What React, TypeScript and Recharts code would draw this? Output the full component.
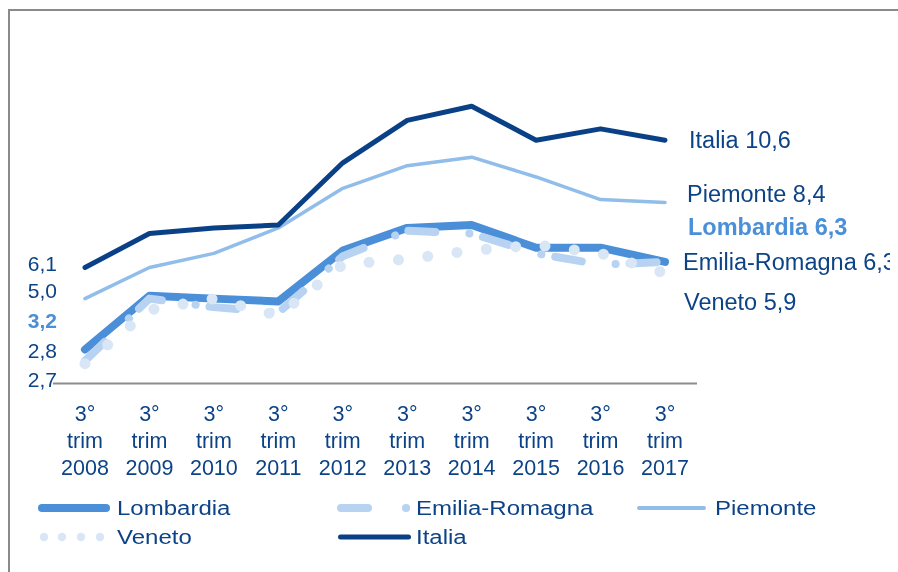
import React from "react";
import { LineChart, Line, XAxis, YAxis } from "recharts";

const periods = ["2008", "2009", "2010", "2011", "2012", "2013", "2014", "2015", "2016", "2017"];
const tickLines = ["3°", "trim"];

const lombardia = [3.2, 5.1, 5.0, 4.9, 6.7, 7.5, 7.6, 6.8, 6.8, 6.3];
const emiliaRomagna = [2.8, 5.0, 4.7, 4.5, 6.5, 7.4, 7.3, 6.6, 6.2, 6.3];
const piemonte = [5.0, 6.1, 6.6, 7.5, 8.9, 9.7, 10.0, 9.3, 8.5, 8.4];
const veneto = [2.7, 4.6, 5.0, 4.4, 6.2, 6.4, 6.7, 6.9, 6.6, 5.9];
const italia = [6.1, 7.3, 7.5, 7.6, 9.8, 11.3, 11.8, 10.6, 11.0, 10.6];

const data = periods.map((p, i) => ({
  period: p,
  Lombardia: lombardia[i],
  "Emilia-Romagna": emiliaRomagna[i],
  Piemonte: piemonte[i],
  Veneto: veneto[i],
  Italia: italia[i],
}));

const NAVY = "#0c4387";
const FONT = "'Liberation Sans', Arial, sans-serif";
const fmt = (v: number) => v.toFixed(1).replace(".", ",");

type Cfg = {
  key: string;
  color: string;
  width: number;
  dash?: string;
  labelColor: string;
  bold?: boolean;
  startDy: number;
  endDx: number;
  endDy: number;
};

const series: Cfg[] = [
  { key: "Lombardia", color: "#4a8fd8", width: 8, labelColor: "#4a90d9", bold: true, startDy: -29, endDx: 23, endDy: -35 },
  { key: "Emilia-Romagna", color: "#b8d3f1", width: 8, dash: "27 34 0.1 14", labelColor: NAVY, startDy: -10, endDx: 18, endDy: 0 },
  { key: "Piemonte", color: "#90bde9", width: 3.5, labelColor: NAVY, startDy: -8, endDx: 22, endDy: -8 },
  { key: "Veneto", color: "#d8e6f6", width: 11, dash: "0 29.5", labelColor: NAVY, startDy: 16, endDx: 19, endDy: 29 },
  { key: "Italia", color: "#0a4186", width: 5, labelColor: NAVY, startDy: -4, endDx: 24, endDy: 0 },
];

const last = periods.length - 1;

function makeLabel(cfg: Cfg) {
  return (props: any) => {
    const { x, y, index, value } = props;
    const common = {
      fill: cfg.labelColor,
      fontFamily: FONT,
      fontWeight: cfg.bold ? 700 : 400,
      dominantBaseline: "central" as const,
    };
    if (index === 0) {
      return (
        <text x={x - 28} y={y + cfg.startDy} textAnchor="end" fontSize={21} {...common}>
          {fmt(Number(value))}
        </text>
      );
    }
    if (index === last) {
      return (
        <text x={x + cfg.endDx} y={y + cfg.endDy} textAnchor="start" fontSize={23.5} {...common}>
          {`${cfg.key} ${fmt(Number(value))}`}
        </text>
      );
    }
    return <g />;
  };
}

function PeriodTick(props: any) {
  const { x, y, payload } = props;
  const lines = [...tickLines, payload.value];
  return (
    <g>
      {lines.map((t, i) => (
        <text
          key={i}
          x={x}
          y={y + 37 + i * 27}
          textAnchor="middle"
          fill={NAVY}
          fontSize={21.5}
          fontFamily={FONT}
        >
          {t}
        </text>
      ))}
    </g>
  );
}

function LegendItem({ left, top, icon, label }: { left: number; top: number; icon: React.ReactNode; label: string }) {
  return (
    <div style={{ position: "absolute", left, top, height: 30, display: "flex", alignItems: "center" }}>
      <svg width={84} height={30} style={{ display: "block" }}>
        {icon}
      </svg>
      <span
        style={{
          display: "inline-block",
          fontFamily: FONT,
          fontSize: 20,
          color: NAVY,
          transform: "scaleX(1.2)",
          transformOrigin: "left center",
          whiteSpace: "nowrap",
          marginLeft: 3,
        }}
      >
        {label}
      </span>
    </div>
  );
}

export default function App() {
  return (
    <div style={{ position: "relative", width: 890, height: 556, overflow: "hidden", background: "#fff" }}>
      <div
        style={{
          position: "fixed",
          left: 8,
          top: 9,
          right: 0,
          bottom: 0,
          borderTop: "2px solid #8a8a8a",
          borderLeft: "2px solid #8a8a8a",
          pointerEvents: "none",
        }}
      />
      <LineChart width={890} height={556} data={data} margin={{ top: 36, right: 201, left: 45, bottom: 120.5 }}>
        <XAxis
          dataKey="period"
          height={60}
          padding={{ left: 32, right: 32 }}
          axisLine={{ stroke: "#8c8c8c", strokeWidth: 2 }}
          tickLine={false}
          tickSize={0}
          tickMargin={0}
          interval={0}
          tick={<PeriodTick />}
        />
        <YAxis hide domain={[2, 14]} />
        {series.map((s) => (
          <Line
            key={s.key}
            dataKey={s.key}
            stroke={s.color}
            strokeWidth={s.width}
            strokeDasharray={s.dash}
            strokeLinecap="round"
            strokeLinejoin="round"
            dot={false}
            activeDot={false}
            isAnimationActive={false}
            label={makeLabel(s)}
          />
        ))}
      </LineChart>
      <LegendItem
        left={22}
        top={485}
        label="Lombardia"
        icon={<line x1={12} y1={15} x2={76} y2={15} stroke="#4a8fd8" strokeWidth={8} strokeLinecap="round" />}
      />
      <LegendItem
        left={321}
        top={485}
        label="Emilia-Romagna"
        icon={
          <g stroke="#b8d3f1" strokeWidth={8} strokeLinecap="round">
            <line x1={12} y1={15} x2={39} y2={15} />
            <line x1={77} y1={15} x2={77.1} y2={15} />
          </g>
        }
      />
      <LegendItem
        left={620}
        top={485}
        label="Piemonte"
        icon={<line x1={11} y1={15} x2={76} y2={15} stroke="#90bde9" strokeWidth={4} strokeLinecap="round" />}
      />
      <LegendItem
        left={22}
        top={514}
        label="Veneto"
        icon={
          <g fill="#d8e6f6">
            {[14, 32, 51, 70].map((cx) => (
              <circle key={cx} cx={cx} cy={15} r={4.2} />
            ))}
          </g>
        }
      />
      <LegendItem
        left={321}
        top={514}
        label="Italia"
        icon={<line x1={11.5} y1={15} x2={79.5} y2={15} stroke="#0a4186" strokeWidth={5} strokeLinecap="round" />}
      />
    </div>
  );
}
